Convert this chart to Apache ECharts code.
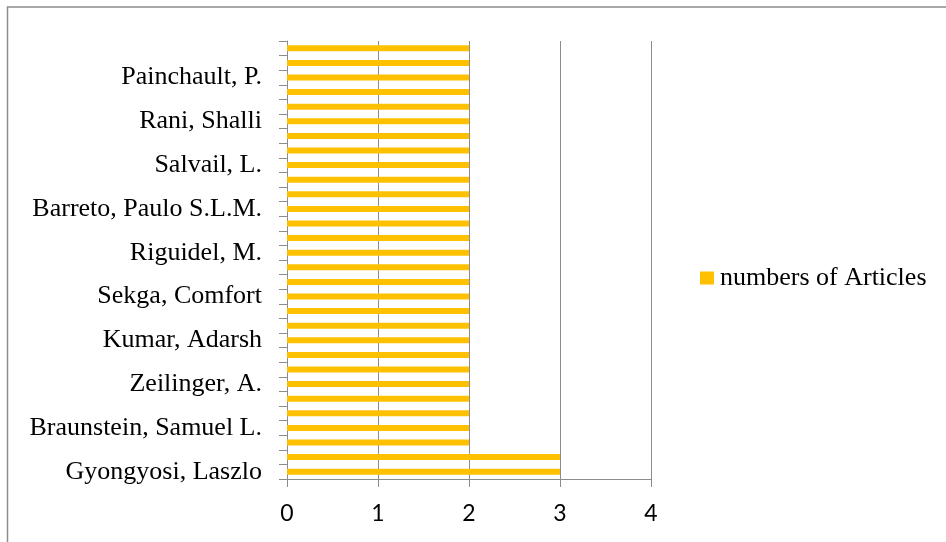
<!DOCTYPE html>
<html>
<head>
<meta charset="utf-8">
<style>
  html, body { margin: 0; padding: 0; background: #ffffff; }
  #chart { width: 946px; height: 542px; }
</style>
<script src="https://cdn.jsdelivr.net/npm/echarts@6/dist/echarts.min.js"></script>
</head>
<body>
<div id="chart"></div>
<script>
// Authors, listed from the bottom of the axis to the top; only every third one carries a label.
const authors = [
  'Gyongyosi, Laszlo', '', '',
  'Braunstein, Samuel L.', '', '',
  'Zeilinger, A.', '', '',
  'Kumar, Adarsh', '', '',
  'Sekga, Comfort', '', '',
  'Riguidel, M.', '', '',
  'Barreto, Paulo S.L.M.', '', '',
  'Salvail, L.', '', '',
  'Rani, Shalli', '', '',
  'Painchault, P.', '', ''
];

// Number of articles per author, same order as above.
const articleCounts = [
  3, 3, 2,
  2, 2, 2,
  2, 2, 2,
  2, 2, 2,
  2, 2, 2,
  2, 2, 2,
  2, 2, 2,
  2, 2, 2,
  2, 2, 2,
  2, 2, 2
];

const valueTicks = [0, 1, 2, 3, 4];
const seriesName = 'numbers of Articles';

const gray = '#8c8c8c';
const serif = '"Liberation Serif", "Times New Roman", serif';

const chart = echarts.init(document.getElementById('chart'), null, { renderer: 'canvas' });

chart.setOption({
  animation: false,
  backgroundColor: '#ffffff',
  graphic: [{
    type: 'rect',
    shape: { x: 7.5, y: 7, width: 960, height: 560 },
    style: { fill: 'none', stroke: gray, lineWidth: 1.5 },
    silent: true
  }],
  grid: { left: 287, right: 295, top: 41, bottom: 63, containLabel: false },
  legend: {
    data: [seriesName],
    left: 700,
    top: 265,
    padding: 0,
    itemWidth: 14,
    itemHeight: 13,
    icon: 'rect',
    textStyle: { fontFamily: serif, fontSize: 26, color: '#000000', padding: [0, 0, 0, 1] }
  },
  xAxis: {
    type: 'value',
    min: valueTicks[0],
    max: valueTicks[valueTicks.length - 1],
    interval: 1,
    axisLine: { show: true, lineStyle: { color: gray, width: 1 } },
    axisTick: { show: true, length: 8, lineStyle: { color: gray } },
    splitLine: { show: true, lineStyle: { color: gray, width: 1 } },
    axisLabel: { fontFamily: 'Lato, "Open Sans", sans-serif', fontSize: 23, color: '#000000', margin: 23 }
  },
  yAxis: {
    type: 'category',
    data: authors,
    boundaryGap: true,
    axisLine: { show: true, lineStyle: { color: gray, width: 1 } },
    axisTick: { show: true, interval: 0, length: 8, lineStyle: { color: gray } },
    axisLabel: { interval: 2, fontFamily: serif, fontSize: 26, color: '#000000', margin: 25 },
    splitLine: { show: false }
  },
  series: [{
    name: seriesName,
    type: 'bar',
    data: articleCounts,
    barWidth: 6,
    itemStyle: { color: '#FFC000' }
  }]
});
</script>
</body>
</html>
